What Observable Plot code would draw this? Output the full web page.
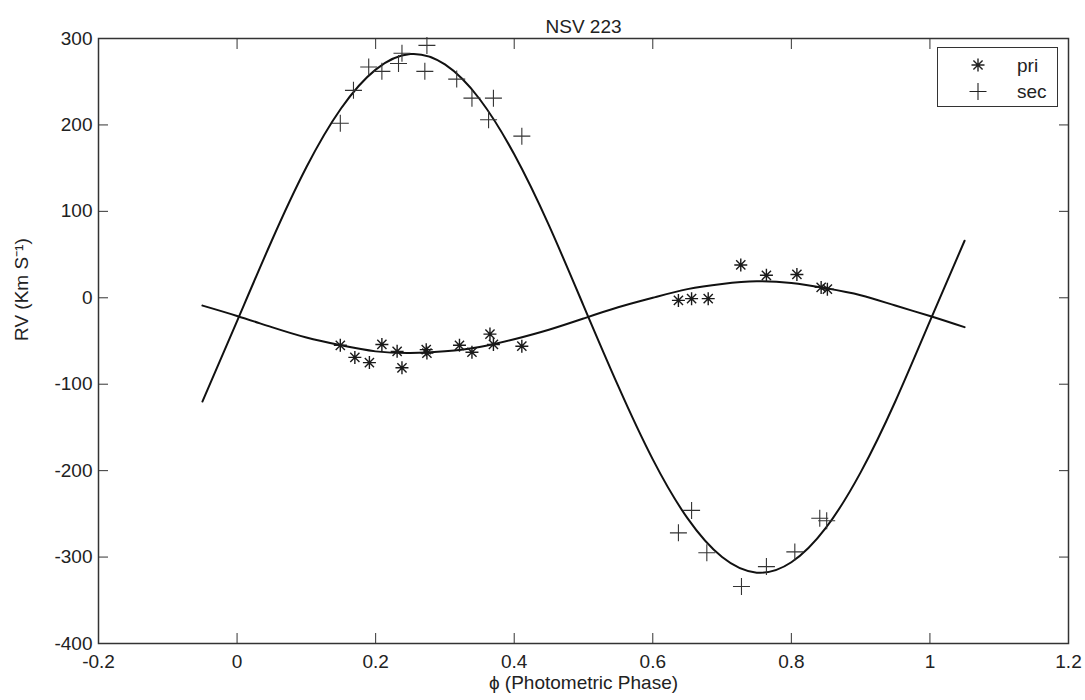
<!DOCTYPE html>
<html><head><meta charset="utf-8">
<script src="https://cdn.jsdelivr.net/npm/d3@7"></script>
<script src="https://cdn.jsdelivr.net/npm/@observablehq/plot@0.6"></script>
<style>
body{margin:0;background:#fff;}
#wrap{position:relative;width:1085px;height:700px;font-family:"Liberation Sans",Arial,sans-serif;}
#legend{position:absolute;left:937px;top:47px;width:121px;height:60px;border:1.5px solid #333;background:#fff;box-sizing:border-box;}
</style></head><body><div id="wrap"></div>
<script>
const title = "NSV 223";
const xLabel = "ϕ (Photometric Phase)";
const yLabel = "RV (Km S⁻¹)";
const xTicks = [-0.2, 0, 0.2, 0.4, 0.6, 0.8, 1, 1.2];
const yTicks = [-400, -300, -200, -100, 0, 100, 200, 300];
const legendNames = ["pri", "sec"];

// primary (*) observations
const priPhase = [0.149, 0.170, 0.191, 0.209, 0.231, 0.238, 0.273, 0.274, 0.321, 0.339, 0.365, 0.370, 0.411,
                  0.637, 0.656, 0.680, 0.727, 0.764, 0.808, 0.843, 0.852];
const priRV    = [-55, -69, -75, -54, -62, -81, -60, -64, -55, -63, -42, -54, -56,
                  -3, -1, -1, 38, 26, 27, 12, 10];
// secondary (+) observations
const secPhase = [0.149, 0.168, 0.190, 0.209, 0.233, 0.238, 0.274, 0.271, 0.317, 0.339, 0.370, 0.363, 0.411,
                  0.637, 0.656, 0.678, 0.728, 0.764, 0.805, 0.841, 0.851];
const secRV    = [202, 240, 267, 262, 271, 283, 292, 262, 253, 231, 231, 206, 187,
                  -272, -246, -295, -334, -311, -294, -255, -258];
// fitted curves
const fitPhase = [-0.05, 0, 0.05, 0.1, 0.15, 0.2, 0.25, 0.3, 0.35, 0.4, 0.45, 0.5, 0.55, 0.6, 0.65, 0.7, 0.75, 0.8, 0.85, 0.9, 0.95, 1, 1.05];
const fitPri   = [-9, -21, -34, -46, -55, -62, -64, -62, -57, -48, -37, -24, -11, 0, 10, 16, 19, 17, 11, 3, -9, -21, -34];
const fitSec   = [-120, -27, 66, 151, 219, 264, 282, 270, 230, 166, 84, -9, -102, -187, -255, -300, -318, -306, -266, -202, -120, -27, 66];

const pri = priPhase.map((p, i) => ({phase: p, rv: priRV[i]}));
const sec = secPhase.map((p, i) => ({phase: p, rv: secRV[i]}));
const fit = fitPhase.map((p, i) => ({phase: p, pri: fitPri[i], sec: fitSec[i]}));

const star8 = {draw(ctx, size) {
  const r = Math.sqrt(size / Math.PI), d = r * Math.SQRT1_2;
  ctx.moveTo(-r, 0); ctx.lineTo(r, 0);
  ctx.moveTo(0, -r); ctx.lineTo(0, r);
  ctx.moveTo(-d, -d); ctx.lineTo(d, d);
  ctx.moveTo(-d, d); ctx.lineTo(d, -d);
}};
const plus = {draw(ctx, size) {
  const r = Math.sqrt(size / Math.PI);
  ctx.moveTo(-r, 0); ctx.lineTo(r, 0);
  ctx.moveTo(0, -r); ctx.lineTo(0, r);
}};

const ink = "#222";
const fs = 19;
const fmt = d => String(d);

const chart = Plot.plot({
  width: 1085, height: 700,
  marginLeft: 98, marginRight: 17, marginTop: 38, marginBottom: 57,
  style: {fontFamily: '"Liberation Sans", Arial, sans-serif', fontSize: fs + "px", color: ink, background: "#fff"},
  x: {domain: [-0.2, 1.2]},
  y: {domain: [-400, 300]},
  marks: [
    Plot.axisX({anchor: "bottom", ticks: xTicks, tickSize: -10, tickPadding: 21, tickFormat: fmt, label: null, fontSize: fs, stroke: "#333"}),
    Plot.axisX({anchor: "top", ticks: xTicks, tickSize: -10, tickFormat: () => "", label: null, stroke: "#333"}),
    Plot.axisY({anchor: "left", ticks: yTicks, tickSize: -10, tickPadding: 16, tickFormat: fmt, label: null, fontSize: fs, stroke: "#333"}),
    Plot.axisY({anchor: "right", ticks: yTicks, tickSize: -10, tickFormat: () => "", label: null, stroke: "#333"}),
    Plot.line(fit, {x: "phase", y: "sec", curve: "natural", stroke: "#111", strokeWidth: 2}),
    Plot.line(fit, {x: "phase", y: "pri", curve: "natural", stroke: "#111", strokeWidth: 2}),
    Plot.dot(pri, {x: "phase", y: "rv", symbol: star8, r: 6.5, fill: "none", stroke: "#1a1a1a", strokeWidth: 1.4}),
    Plot.dot(sec, {x: "phase", y: "rv", symbol: plus, r: 8.5, fill: "none", stroke: "#333", strokeWidth: 1.1}),
    Plot.frame({stroke: "#333", strokeWidth: 1.5}),
    Plot.text([title], {text: d => d, frameAnchor: "top", dy: -19, fontSize: fs, fill: ink}),
    Plot.text([xLabel], {text: d => d, frameAnchor: "bottom", dy: 45, fontSize: fs, fill: ink}),
    Plot.text([yLabel], {text: d => d, frameAnchor: "left", rotate: -90, dx: -77, fontSize: fs, fill: ink})
  ]
});

const wrap = document.getElementById("wrap");
wrap.appendChild(chart);

// legend box
const leg = document.createElement("div");
leg.id = "legend";
wrap.appendChild(leg);
const lsvg = d3.select(leg).append("svg").attr("width", 121).attr("height", 60).style("position", "absolute").style("left", "-1.5px").style("top", "-1.5px");
const legSymbols = [star8, plus];
const legR = [6.5, 8.5];
legendNames.forEach((name, i) => {
  const cy = 18 + i * 26.5;
  lsvg.append("path")
    .attr("transform", `translate(41,${cy})`)
    .attr("d", d3.symbol(legSymbols[i], Math.PI * legR[i] * legR[i])())
    .attr("fill", "none").attr("stroke", "#222").attr("stroke-width", i === 0 ? 1.4 : 1.1);
  lsvg.append("text")
    .attr("x", 80).attr("y", cy).attr("dy", "0.35em")
    .attr("font-family", '"Liberation Sans", Arial, sans-serif')
    .attr("font-size", fs).attr("fill", ink).text(name);
});
</script>
</body></html>
